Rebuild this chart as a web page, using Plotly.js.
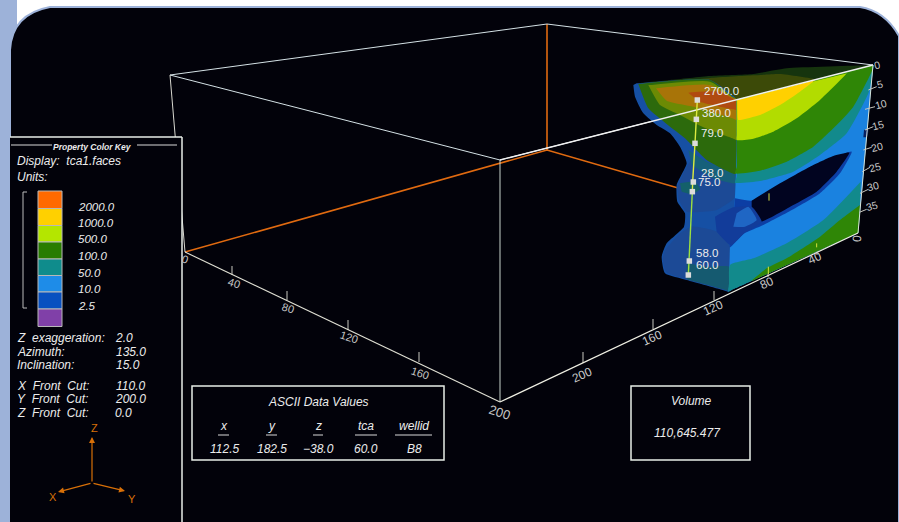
<!DOCTYPE html>
<html><head><meta charset="utf-8">
<script src="https://cdn.plot.ly/plotly-3.0.1.min.js"></script>
<style>html,body{margin:0;padding:0;background:#fff}#c{width:899px;height:522px}</style></head>
<body><div id="c"></div>
<script>
// ---- legend
const keyLabels=['2000.0','1000.0','500.0','100.0','50.0','10.0','2.5'];
const keyLabelY=[207,223,239,256,273,289,306];
const keyColors=['#ff6a00','#ffd000','#b4e600','#287c00','#0f8c8c','#1e8ce8','#0850c0','#8040a8'];
const keyEdges=[191,208.5,225.5,242,259,275.5,292,309,326.5];
// ---- view parameters
const paramNames=['Z  exaggeration:','Azimuth:','Inclination:','X  Front  Cut:','Y  Front  Cut:','Z  Front  Cut:'];
const paramValues=['2.0','135.0','15.0','110.0','200.0','0.0'];
const paramValueX=[115,116,116,116,115,115];
const paramY=[338,352,365,386,399,413];
// ---- data readout
const asciiHeads=['x','y','z','tca','wellid'];
const asciiVals=['112.5','182.5','\u221238.0','60.0','B8'];
const asciiX=[224,272,318,366,414];
const asciiRuleL=[218,266,313,355,395];
const asciiRuleR=[229,277,323,377,432];
// ---- bounding box
const boxTopX=[170,547,873,500,170];
const boxTopY=[75,24,65,160,75];
const boxFrontX=[500,500];
const boxFrontY=[160,402];
const boxRightX=[873,858];
const boxRightY=[65,233];
const boxBaseRX=[500,858];
const boxBaseRY=[402,233];
const boxBaseLX=[185,500];
const boxBaseLY=[252,402];
const boxLeftX=[170,185];
const boxLeftY=[75,252];
const boxRidgeX=[500,873];
const boxRidgeY=[160,65];
const boxOrangeX=[185,547,685,null,547,547];
const boxOrangeY=[252,150,190,null,150,24];
// ---- axis ticks
const xTickBaseX=[232,287,348,419,583,653,714,768,817];
const xTickBaseY=[275,300,330,362,363,329,300,277,255];
const xTickLen=[9,9,10,10,11,10,9,10,11];
const leftLabels=['0','40','80','120','160','200'];
const leftLabelX=[185,234,288,349,420,500];
const leftLabelY=[259,283,308,337,373,412];
const rightLabels=['200','160','120','80','40','0'];
const rightLabelX=[582,652,713,767,815,857];
const rightLabelY=[375,338,308,283,258,239];
const rightLabelAngle=[-24,-24,-24,-24,-24,-85];
const zLabels=['0','5','10','15','20','25','30','35'];
const zLabelX=[770,780,783,775,770,765,760,755];
const zLabelY=[45,103,163,225,290,350,408,468];
const zTick0X=[745,735,735,730,727,720,718];
const zTick0Y=[120,178,240,300,365,430,487];
const zTick1X=[770,765,760,755,750,745,740];
const zTick1Y=[110,170,230,292,352,418,478];
// ---- surface polygons
const topFace=[[50,100],[60,99],[150,90],[270,78],[400,72],[500,55],[740,46],[760,45],[745,49],[585,90],[360,146],[350,148],[200,120],[60,101]];
const topWarm=[[120,100],[270,84],[400,76],[480,72],[585,88],[570,92],[365,145],[355,148],[220,120]];
const leftBase=[[40,105],[45,140],[70,190],[110,225],[150,250],[180,290],[200,340],[170,405],[172,455],[195,490],[192,530],[140,580],[125,620],[135,670],[200,690],[315,722],[325,725],[328,715],[330,590],[350,450],[350,160],[350,148],[270,90],[60,100],[50,100]];
const leftLobeUp=[[172,410],[200,350],[225,320],[280,360],[345,400],[342,445],[290,480],[200,485],[176,450]];
const leftLobeLow=[[135,600],[180,550],[215,530],[290,545],[330,590],[328,715],[326,722],[316,720],[200,688],[138,665],[128,625]];
const lobeTealUp=[[205,300],[260,335],[345,372],[345,400],[280,385],[215,345]];
const leftGreen=[[55,102],[85,175],[140,222],[195,265],[260,330],[345,372],[350,360],[350,160],[350,148],[340,142],[270,90],[65,101]];
const leftOlive=[[85,105],[120,165],[180,195],[250,232],[340,266],[350,270],[350,260],[350,160],[350,148],[340,142],[270,95],[95,105]];
const leftOrange=[[108,115],[140,152],[230,172],[340,206],[350,210],[352,200],[352,160],[352,150],[340,144],[270,105],[118,114]];
const leftRed=[[205,128],[240,155],[340,178],[352,180],[352,170],[352,158],[352,150],[340,146],[300,125],[215,127]];
const wellGreenUp=[[180,400],[225,395],[240,418],[215,432],[185,425]];
const lobeTealLow=[[200,640],[260,650],[328,650],[327,712],[326,723],[316,720],[200,688]];
const rightBase=[[350,148],[360,146],[750,48],[760,45],[758,65],[717,530],[715,548],[700,555],[335,720],[325,725],[327,710],[330,590],[345,445],[350,300],[350,160]];
const rightTeal=[[350,148],[360,146],[750,48],[760,45],[757,75],[745,130],[680,250],[600,315],[520,365],[420,393],[345,398],[350,380],[350,160]];
const rightGreen=[[350,148],[360,146],[750,48],[760,45],[758,55],[755,65],[700,170],[650,225],[580,290],[500,335],[420,362],[345,370],[350,350],[350,160]];
const rightLime=[[350,148],[360,146],[670,73],[680,70],[600,150],[530,205],[460,245],[400,266],[350,270],[350,255],[350,160]];
const rightYellow=[[352,150],[362,148],[575,93],[585,90],[540,125],[480,165],[420,195],[355,210],[353,200],[352,160]];
const holeBand=[[345,445],[395,452],[480,405],[570,360],[640,325],[695,305],[660,370],[600,430],[520,478],[430,525],[370,552],[330,592],[340,500]];
const hole=[[395,452],[480,400],[570,350],[640,318],[688,308],[650,365],[590,425],[520,465],[420,515],[395,480]];
const lump=[[285,500],[340,472],[395,470],[425,515],[375,548],[332,585],[290,545]];
const lumpGlow=[[350,490],[385,470],[410,510],[375,530],[340,530]];
const lowTeal=[[722,395],[610,510],[500,580],[400,625],[330,645],[327,700],[325,725],[335,720],[700,555],[715,548],[717,530]];
const lowGreen=[[720,465],[660,510],[600,560],[500,625],[440,655],[395,693],[410,686],[700,555],[715,548],[717,530]];
const spot=[[732,240],[745,238],[742,260],[730,262]];
// ---- well path
const wellUpX=[232,228,225,218,217];
const wellUpY=[150,208,280,395,425];
const wellLowX=[217,208,205];
const wellLowY=[425,632,675];
const sampleX=[232,229,225,220,217,208,205];
const sampleY=[150,208,280,396,425,633,675];
const wellLabels=['2700.0','380.0','79.0','28.0','75.0','58.0','60.0'];
const wellLabelX=[303,290,277,275,267,260,260];
const wellLabelY=[122,190,250,370,397,608,645];
const yellowTicksX=[447,447,null,445,445,null,590,590];
const yellowTicksY=[430,452,null,650,672,null,580,592];

const PX=a=>620+a/3, PY=a=>a==null?null:50+a/3;
const mapX=a=>a.map(v=>v==null?null:PX(v)), mapY=a=>a.map(v=>PY(v));
const poly=(pts,color)=>({type:'scatter',mode:'lines',x:pts.map(p=>PX(p[0])),y:pts.map(p=>PY(p[1])),
  fill:'toself',fillcolor:color,line:{width:0,shape:'spline',smoothing:0.5},hoverinfo:'skip',showlegend:false});
const seg=(x,y,color,w)=>({type:'scatter',mode:'lines',x,y,line:{color,width:w},hoverinfo:'skip',showlegend:false,connectgaps:false});

const xTickX=[],xTickY=[];
xTickBaseX.forEach((v,i)=>{xTickX.push(v,v,null);xTickY.push(xTickBaseY[i],xTickBaseY[i]-xTickLen[i],null);});
const zTX=[],zTY=[];
zTick0X.forEach((v,i)=>{zTX.push(PX(v),PX(zTick1X[i]),null);zTY.push(PY(zTick0Y[i]),PY(zTick1Y[i]),null);});

const traces=[
 seg(boxOrangeX,boxOrangeY,'#e06a10',1.6),
 seg(boxTopX,boxTopY,'#d5e2e6',1),
 seg(boxFrontX,boxFrontY,'#c8d4cc',1),
 seg(boxLeftX,boxLeftY,'#d8d8d0',1),
 seg(xTickX,xTickY,'#c8c8c0',1),
 seg(boxBaseLX,boxBaseLY,'#e0e0d4',1.1),
 poly(topFace,'#16340e'),poly(topWarm,'#3c4a08'),
 poly(leftBase,'#1650a4'),poly(leftLobeUp,'#1c4a96'),poly(leftLobeLow,'#1c4a96'),
 poly(lobeTealUp,'#16607a'),poly(lobeTealLow,'#155a70'),
 poly(leftGreen,'#2c6a0c'),poly(leftOlive,'#6c8a04'),poly(leftOrange,'#a87408'),poly(leftRed,'#b04a10'),
 poly(wellGreenUp,'#14606a'),
 poly(rightBase,'#1a82e0'),poly(rightTeal,'#128a8c'),poly(rightGreen,'#2f8606'),poly(rightLime,'#b2dc00'),poly(rightYellow,'#ffd000'),
 poly(holeBand,'#0c3ea4'),poly(hole,'#010420'),poly(lump,'#123c9a'),poly(lumpGlow,'#1f66c4'),
 poly(lowTeal,'#128a8c'),poly(lowGreen,'#2f8606'),poly(spot,'#0a2060'),
 seg(boxRidgeX,boxRidgeY,'#f0f0f0',1.3),
 seg(boxRightX,boxRightY,'#d8e4d8',1),
 seg(boxBaseRX,boxBaseRY,'#f0f0e4',1.2),
 seg(zTX,zTY,'#c8c8c0',1),
 seg(mapX(yellowTicksX),mapY(yellowTicksY),'#d8e040',1),
 seg(mapX(wellUpX),mapY(wellUpY),'#dcea40',1.4),
 seg(mapX(wellLowX),mapY(wellLowY),'#9ce040',1.4),
 {type:'scatter',mode:'markers',x:mapX(sampleX),y:mapY(sampleY),marker:{symbol:'square',size:5.5,color:'#dcdcdc'},hoverinfo:'skip',showlegend:false}
];

const F='"Liberation Sans",Arial,sans-serif';
const note=(x,y,text,o={})=>({x:o.xa==='left'?x-2.5:x,y,xref:'x',yref:'y',text,showarrow:false,xanchor:o.xa||'center',yanchor:'middle',textangle:o.a||0,
  font:{family:F,size:o.s||12,color:o.c||'#ececec',style:o.i===false?'normal':'italic',weight:o.w||400}});
const ann=[];
ann.push(note(92,147,'Property Color Key',{s:8.5,w:700}));
ann.push(note(17,161,'Display:&nbsp;&nbsp;tca1.faces',{xa:'left'}));
ann.push(note(17,177,'Units:',{xa:'left'}));
keyLabels.forEach((t,i)=>ann.push(note(78,keyLabelY[i],t,{xa:'left',s:11.5})));
paramNames.forEach((t,i)=>{ann.push(note(17,paramY[i],t.replace(/  /g,'&nbsp;&nbsp;'),{xa:'left'}));ann.push(note(paramValueX[i],paramY[i],paramValues[i],{xa:'left'}));});
ann.push(note(318,402,'ASCII Data Values'));
asciiHeads.forEach((t,i)=>{ann.push(note(asciiX[i],426,t));ann.push(note(asciiX[i],449,asciiVals[i]));});
ann.push(note(691,401,'Volume'));
ann.push(note(687,433,'110,645.477'));
leftLabels.forEach((t,i)=>ann.push(note(leftLabelX[i],leftLabelY[i],t,{i:false,a:18,c:'#c4c4c4',s:i==5?13:11})));
rightLabels.forEach((t,i)=>ann.push(note(rightLabelX[i],rightLabelY[i],t,{i:false,a:rightLabelAngle[i],c:'#c8c8c8',s:12})));
zLabels.forEach((t,i)=>ann.push(note(PX(zLabelX[i]),PY(zLabelY[i]),t,{i:false,a:-15,c:'#c8c8c8',s:10.5})));
wellLabels.forEach((t,i)=>ann.push(note(PX(wellLabelX[i]),PY(wellLabelY[i]),t,{i:false,c:'#ececec',s:11.5})));
[[92,437],[58,492],[125,491]].forEach(p=>ann.push({x:p[0],y:p[1],ax:92,ay:483,xref:'x',yref:'y',axref:'x',ayref:'y',text:'',showarrow:true,arrowhead:2,arrowsize:1,arrowwidth:1.2,arrowcolor:'#d87008'}));
ann.push(note(94,428,'Z',{i:false,c:'#d87008',s:11}));
ann.push(note(53,497,'X',{i:false,c:'#d87008',s:11}));
ann.push(note(132,499,'Y',{i:false,c:'#d87008',s:11}));

const W='#e8eee8';
const rect=(x0,y0,x1,y1,fill,line,w,layer)=>({type:'rect',xref:'x',yref:'y',x0,y0,x1,y1,fillcolor:fill,line:{color:line,width:w},layer:layer||'above'});
const ln=(x0,y0,x1,y1,c,w)=>({type:'line',xref:'x',yref:'y',x0,y0,x1,y1,line:{color:c,width:w},layer:'above'});
const shapes=[
 rect(0,0,17,522,'#9db2d9','#9db2d9',0,'below'),
 {type:'path',xref:'x',yref:'y',layer:'below',path:'M 33 522 Q 12 508 10 480 L 10 50 Q 12 14 50 7 L 860 7 Q 885 11 899 36 L 899 530 L 33 530 Z',fillcolor:'#02020a',line:{color:'#9db2d9',width:2}},
 rect(10,137,182,540,'#02020a','rgba(0,0,0,0)',0),
 ln(10,137,182,137,W,1.5),ln(182,137,182,522,W,1.5),
 ln(11,145,52,145,'#d8d8d8',1),ln(137,145,177,145,'#d8d8d8',1),
 ln(23,192,23,308,'#bbbbbb',1),ln(23,192,27,192,'#bbbbbb',1),ln(23,308,27,308,'#bbbbbb',1),
 rect(192,386,444,460,'#02020a',W,1.5),
 rect(631,386,750,460,'#02020a',W,1.5)
];
keyColors.forEach((c,i)=>shapes.push(rect(38,keyEdges[i],62,keyEdges[i+1],c,'#b8b8b8',1)));
asciiRuleL.forEach((v,i)=>shapes.push(ln(v,435,asciiRuleR[i],435,'#d8d8d8',1)));

Plotly.newPlot('c',traces,{
 width:899,height:522,margin:{l:0,r:0,t:0,b:0,pad:0},paper_bgcolor:'#ffffff',plot_bgcolor:'rgba(0,0,0,0)',showlegend:false,
 xaxis:{range:[0,899],visible:false,fixedrange:true},yaxis:{range:[522,0],visible:false,fixedrange:true},
 shapes,annotations:ann
},{staticPlot:true,displayModeBar:false});
</script></body></html>
